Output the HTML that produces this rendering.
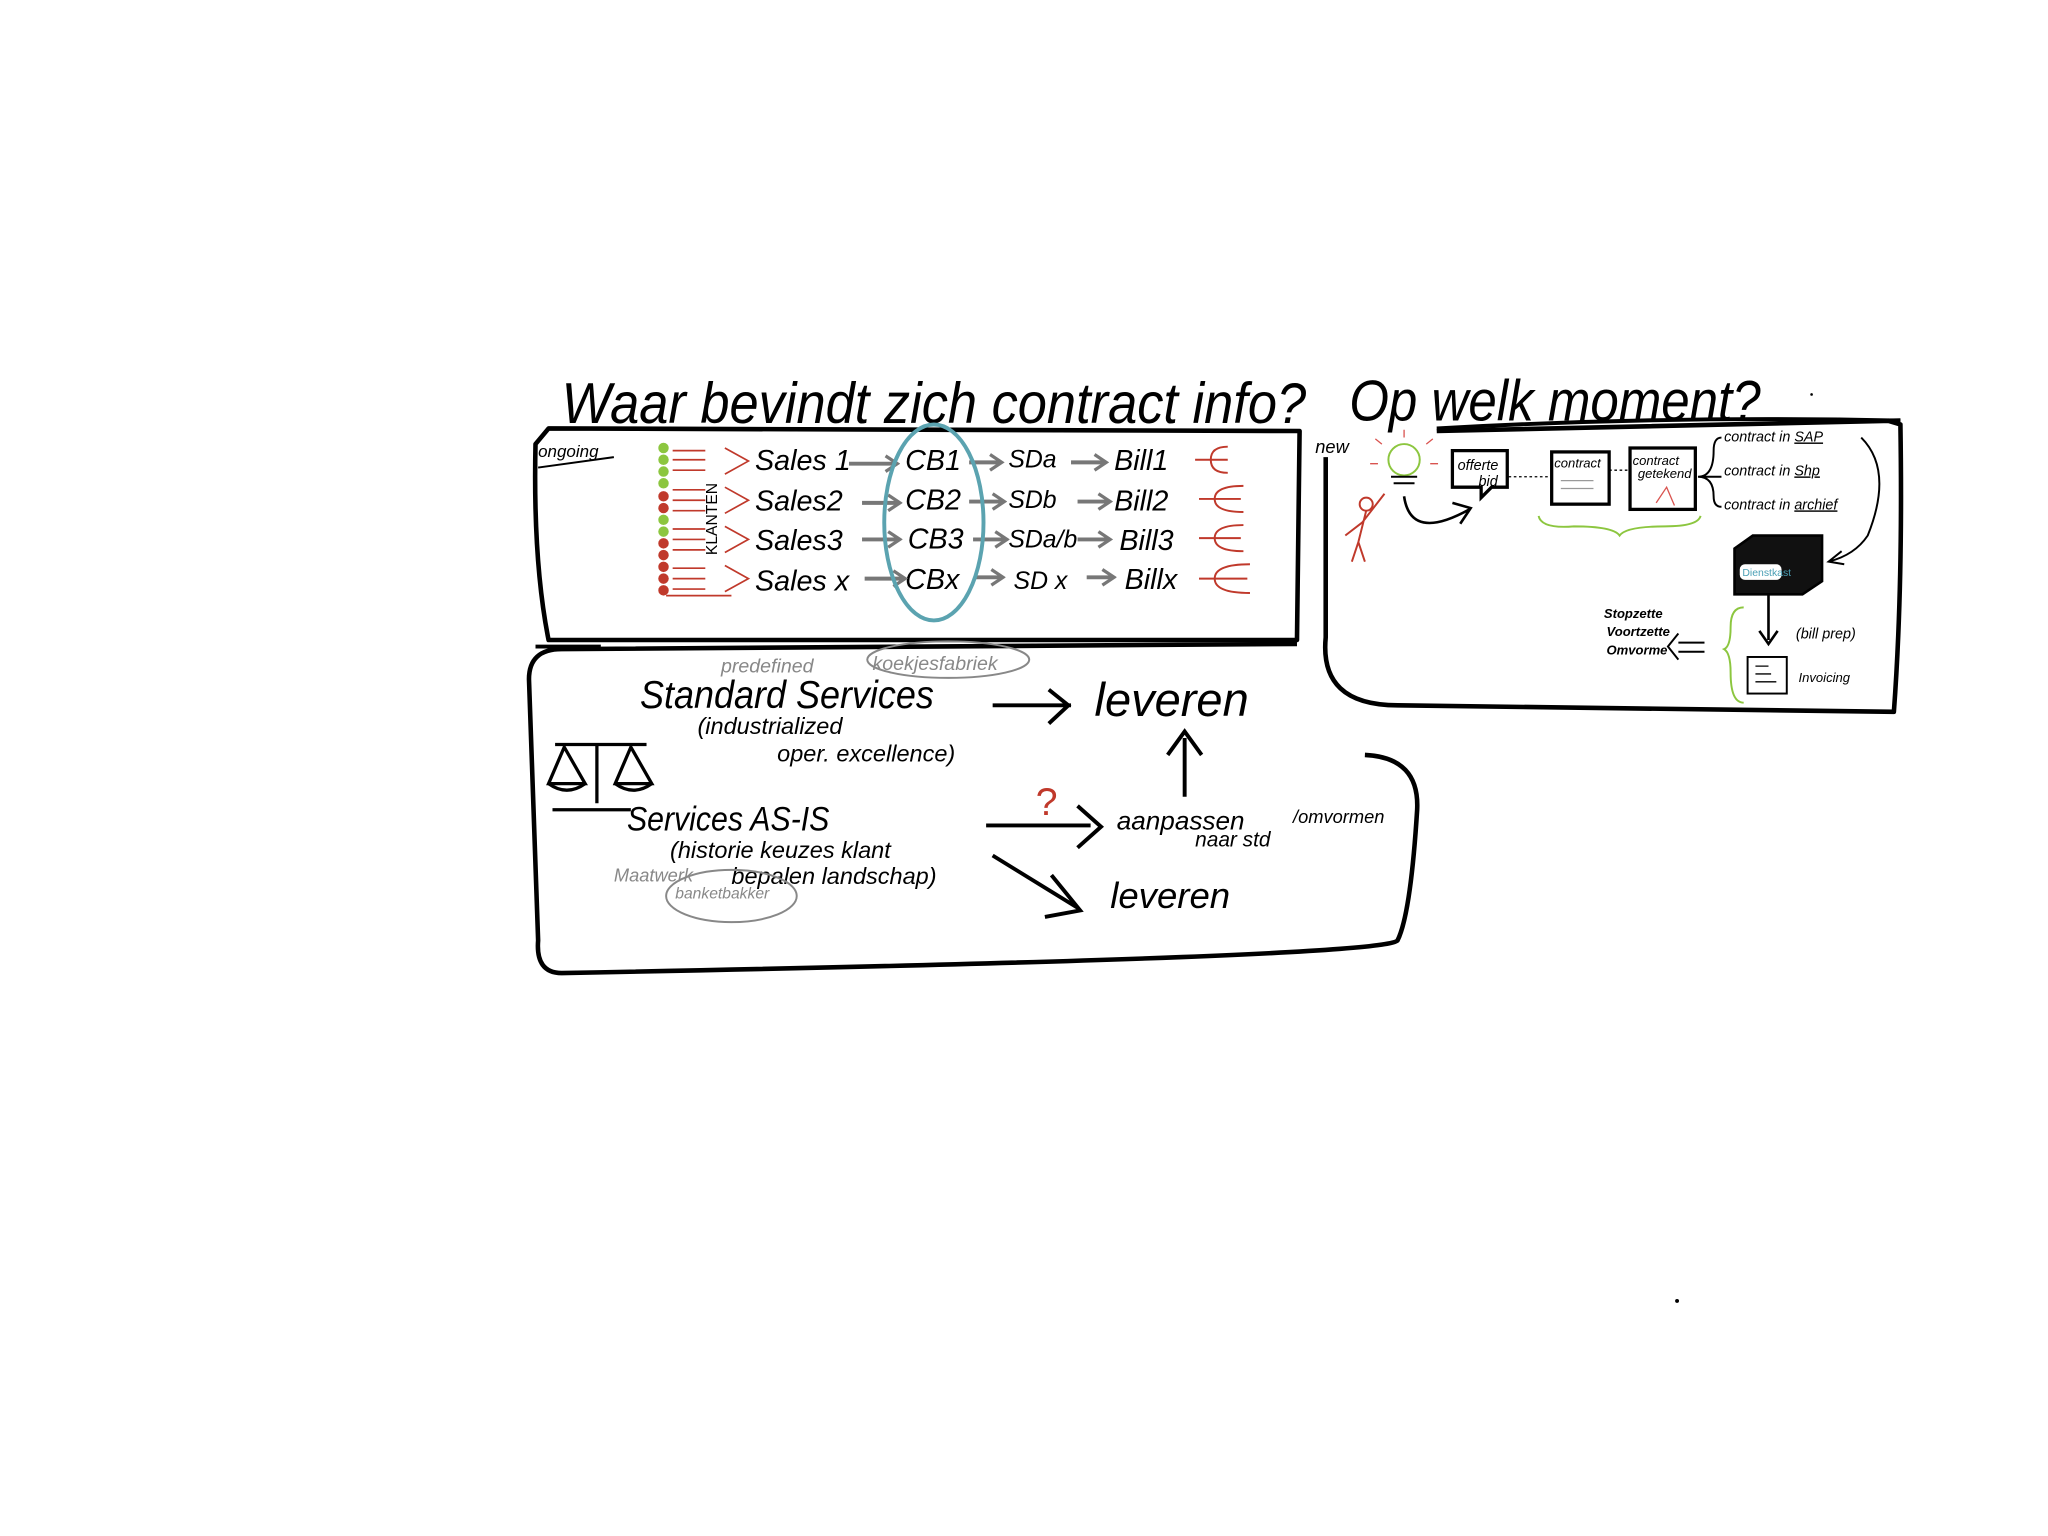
<!DOCTYPE html>
<html><head><meta charset="utf-8">
<style>
html,body{margin:0;padding:0;background:#fff;}
svg{display:block;}
text{font-family:"Liberation Sans",sans-serif;}
</style></head>
<body>
<svg width="2048" height="1536" viewBox="0 0 1568 1176" xmlns="http://www.w3.org/2000/svg">
<defs>
<marker id="ag" markerUnits="userSpaceOnUse" markerWidth="12" markerHeight="14" refX="9" refY="7" orient="auto"><path d="M1,1 L10,7 L1,13" fill="none" stroke="#777" stroke-width="2.5"/></marker>
</defs>
<rect width="1568" height="1176" fill="#fff"/>

<!-- Titles -->
<text x="430" y="324" font-size="44" font-style="italic" fill="#000" textLength="570" lengthAdjust="spacingAndGlyphs">Waar bevindt zich contract info?</text>
<text x="1033" y="322" font-size="44" font-style="italic" fill="#000" textLength="315" lengthAdjust="spacingAndGlyphs">Op welk moment?</text>
<path d="M1100,328 Q1280,318 1455,322" stroke="#000" stroke-width="3" fill="none"/>

<!-- Box 1 -->
<path d="M420,328 L995,330 L993,490 L420,490 Q408,430 410,340 Z" fill="none" stroke="#000" stroke-width="3.5" stroke-linejoin="round"/>
<text x="412" y="350" font-size="13" font-style="italic">ongoing</text>
<path d="M412,358 L470,350" stroke="#000" stroke-width="1.5"/>
<g>
<circle cx="508" cy="343" r="4" fill="#8cc63f"/><circle cx="508" cy="352" r="4" fill="#8cc63f"/><circle cx="508" cy="361" r="4" fill="#8cc63f"/><circle cx="508" cy="370" r="4" fill="#8cc63f"/>
<circle cx="508" cy="380" r="4" fill="#c0392b"/><circle cx="508" cy="389" r="4" fill="#c0392b"/><circle cx="508" cy="398" r="4" fill="#8cc63f"/><circle cx="508" cy="407" r="4" fill="#8cc63f"/>
<circle cx="508" cy="416" r="4" fill="#c0392b"/><circle cx="508" cy="425" r="4" fill="#c0392b"/><circle cx="508" cy="434" r="4" fill="#c0392b"/><circle cx="508" cy="443" r="4" fill="#c0392b"/><circle cx="508" cy="452" r="4" fill="#c0392b"/>
</g>
<g stroke="#c0392b" stroke-width="1.3" fill="none">
<path d="M515,345 h25 M515,352 h25 M515,360 h25 M555,343 l18,10 l-18,10"/>
<path d="M515,375 h25 M515,383 h25 M515,391 h25 M555,373 l18,10 l-18,10"/>
<path d="M515,405 h25 M515,413 h25 M515,421 h25 M555,403 l18,10 l-18,10"/>
<path d="M515,435 h25 M515,443 h25 M515,451 h25 M510,456 h50 M555,433 l18,10 l-18,10"/>
</g>
<text transform="translate(549,425) rotate(-90)" font-size="12">KLANTEN</text>
<g font-size="22" font-style="italic" fill="#000">
<text x="578" y="360">Sales 1</text><text x="693" y="360">CB1</text><text x="772" y="358" font-size="19">SDa</text><text x="853" y="360">Bill1</text>
<text x="578" y="391">Sales2</text><text x="693" y="390">CB2</text><text x="772" y="389" font-size="19">SDb</text><text x="853" y="391">Bill2</text>
<text x="578" y="421">Sales3</text><text x="695" y="420">CB3</text><text x="772" y="419" font-size="19">SDa/b</text><text x="857" y="421">Bill3</text>
<text x="578" y="452">Sales x</text><text x="693" y="451">CBx</text><text x="776" y="451" font-size="19">SD x</text><text x="861" y="451">Billx</text>
</g>
<g stroke="#777" stroke-width="3" fill="none" marker-end="url(#ag)">
<path d="M650,355 h36"/><path d="M742,354 h24"/><path d="M820,354 h26"/>
<path d="M660,385 h28"/><path d="M742,384 h26"/><path d="M825,384 h24"/>
<path d="M660,413 h28"/><path d="M745,413 h25"/><path d="M825,413 h24"/>
<path d="M662,443 h30"/><path d="M747,442 h20"/><path d="M832,442 h20"/>
</g>
<ellipse cx="715" cy="400" rx="38" ry="75" fill="none" stroke="#5ba3b0" stroke-width="3"/>
<g stroke="#c0392b" stroke-width="1.5" fill="none">
<path d="M915,352 h12 M940,342 q-13,0 -13,10 q0,10 13,10 M927,352 h13"/>
<path d="M918,382 h12 M952,372 q-22,0 -22,10 q0,10 22,10 M930,382 h20"/>
<path d="M918,412 h12 M952,402 q-22,0 -22,10 q0,10 22,10 M930,412 h20"/>
<path d="M918,443 h12 M957,432 q-27,0 -27,11 q0,11 27,11 M930,443 h25"/>
</g>

<!-- Box 2 -->
<path d="M410,495 L460,495" stroke="#000" stroke-width="3" fill="none"/>
<path d="M993,493 L430,497 Q405,497 405,520 L412,720 Q410,745 430,745 Q1060,733 1070,720 Q1080,700 1085,620 Q1087,580 1045,578" fill="none" stroke="#000" stroke-width="3.5" stroke-linejoin="round"/>
<text x="552" y="515" font-size="15" font-style="italic" fill="#888">predefined</text>
<text x="668" y="513" font-size="15" font-style="italic" fill="#888">koekjesfabriek</text>
<ellipse cx="726" cy="505" rx="62" ry="14" fill="none" stroke="#888" stroke-width="1.5"/>
<text x="490" y="542" font-size="30" font-style="italic" fill="#000" textLength="225" lengthAdjust="spacingAndGlyphs">Standard Services</text>
<text x="534" y="562" font-size="18" font-style="italic">(industrialized</text>
<text x="595" y="583" font-size="18" font-style="italic">oper. excellence)</text>
<path d="M760,540 h60 M803,528 l15,12 l-15,14" stroke="#000" stroke-width="3" fill="none"/>
<text x="838" y="548" font-size="36" font-style="italic">leveren</text>
<path d="M907,610 V565 M894,578 l13,-18 l13,18" stroke="#000" stroke-width="3" fill="none"/>
<g stroke="#000" stroke-width="2.5" fill="none">
<path d="M425,570 h70 M457,570 v45"/>
<path d="M432,572 l-12,28 h28 z M483,572 l-12,28 h28 z"/>
<path d="M420,600 q14,10 28,0 M471,600 q14,10 28,0"/>
<path d="M423,620 h60"/>
</g>
<text x="480" y="636" font-size="26" font-style="italic" textLength="155" lengthAdjust="spacingAndGlyphs">Services AS-IS</text>
<text x="513" y="657" font-size="18" font-style="italic">(historie keuzes klant</text>
<text x="560" y="677" font-size="18" font-style="italic">bepalen landschap)</text>
<text x="470" y="675" font-size="14" font-style="italic" fill="#888">Maatwerk</text>
<text x="517" y="688" font-size="12" font-style="italic" fill="#888">banketbakker</text>
<ellipse cx="560" cy="686" rx="50" ry="20" fill="none" stroke="#888" stroke-width="1.5"/>
<text x="793" y="624" font-size="30" fill="#c0392b">?</text>
<path d="M755,632 h80 M825,617 l18,16 l-18,16" stroke="#000" stroke-width="3" fill="none"/>
<text x="855" y="635" font-size="20" font-style="italic">aanpassen</text>
<text x="990" y="630" font-size="14" font-style="italic">/omvormen</text>
<text x="915" y="648" font-size="16" font-style="italic">naar std</text>
<path d="M760,655 L825,695 M805,670 l22,27 l-27,5" stroke="#000" stroke-width="3" fill="none"/>
<text x="850" y="695" font-size="28" font-style="italic">leveren</text>

<!-- Box 3 -->
<path d="M1015,350 L1015,488 Q1010,540 1070,540 L1450,545 Q1457,450 1455,325 L1445,322 M1455,322 L1100,330" fill="none" stroke="#000" stroke-width="3.5" stroke-linejoin="round"/>
<text x="1007" y="347" font-size="14" font-style="italic">new</text>
<circle cx="1075" cy="352" r="12" fill="none" stroke="#8cc63f" stroke-width="1.5"/>
<path d="M1065,365 h20 M1067,370 h16" stroke="#000" stroke-width="1.5"/>
<g stroke="#d9534f" stroke-width="1"><path d="M1058,340 l-5,-4 M1092,340 l5,-4 M1075,335 v-6 M1055,355 h-6 M1095,355 h6"/></g>
<g stroke="#c0392b" stroke-width="1.5" fill="none">
<circle cx="1046" cy="386" r="5"/><path d="M1046,391 L1040,415 L1035,430 M1040,415 L1045,430 M1043,400 L1060,378 M1043,400 L1030,410"/>
</g>
<path d="M1075,380 Q1080,415 1125,390 M1112,385 l14,4 l-8,12" stroke="#000" stroke-width="2" fill="none"/>
<path d="M1112,345 h42 v28 h-12 l-8,8 v-8 h-22 z" fill="#fff" stroke="#000" stroke-width="2.5"/>
<text x="1116" y="360" font-size="11" font-style="italic">offerte</text><text x="1132" y="372" font-size="11" font-style="italic">bid</text>
<path d="M1155,365 h30" stroke="#000" stroke-width="1" stroke-dasharray="2,2"/>
<rect x="1188" y="346" width="44" height="40" fill="#fff" stroke="#000" stroke-width="2.5"/>
<text x="1190" y="358" font-size="10" font-style="italic">contract</text>
<path d="M1195,368 h25 M1195,374 h25" stroke="#999" stroke-width="1"/>
<path d="M1232,360 h14" stroke="#000" stroke-width="1" stroke-dasharray="2,2"/>
<rect x="1248" y="343" width="50" height="47" fill="#fff" stroke="#000" stroke-width="2.5"/>
<text x="1250" y="356" font-size="10" font-style="italic">contract</text><text x="1254" y="366" font-size="10" font-style="italic">getekend</text>
<path d="M1268,385 l8,-12 l6,14" stroke="#d9534f" stroke-width="1" fill="none"/>
<path d="M1178,395 Q1180,405 1205,403 Q1235,403 1240,410 Q1245,403 1275,403 Q1300,403 1302,395" stroke="#8cc63f" stroke-width="1.5" fill="none"/>
<path d="M1300,365 Q1312,365 1312,345 Q1312,335 1318,335 M1300,365 h18 M1300,365 Q1312,365 1312,380 Q1312,388 1318,388" stroke="#000" stroke-width="1.5" fill="none"/>
<text x="1320" y="338" font-size="11" font-style="italic">contract in <tspan text-decoration="underline">SAP</tspan></text>
<text x="1320" y="364" font-size="11" font-style="italic">contract in <tspan text-decoration="underline">Shp</tspan></text>
<text x="1320" y="390" font-size="11" font-style="italic">contract in <tspan text-decoration="underline">archief</tspan></text>
<path d="M1425,335 Q1450,360 1430,410 Q1420,425 1400,430 M1410,422 l-10,8 l12,2" stroke="#000" stroke-width="1.5" fill="none"/>
<path d="M1328,420 L1342,410 L1395,410 L1395,445 L1380,455 L1328,455 Z" fill="#111" stroke="#000" stroke-width="2"/>
<rect x="1332" y="432" width="32" height="12" rx="4" fill="#fff"/>
<text x="1334" y="441" font-size="8" fill="#4a9fb5">Dienstkast</text>
<path d="M1354,455 V490 M1347,483 l7,10 l7,-10" stroke="#000" stroke-width="2" fill="none"/>
<text x="1375" y="489" font-size="11" font-style="italic">(bill prep)</text>
<rect x="1338" y="503" width="30" height="28" fill="#fff" stroke="#000" stroke-width="1.5"/>
<path d="M1344,510 h10 M1344,516 h12 M1344,522 h16" stroke="#000" stroke-width="1"/>
<text x="1377" y="522" font-size="10" font-style="italic">Invoicing</text>
<path d="M1335,465 Q1325,465 1325,480 Q1325,495 1320,497 Q1325,500 1325,515 Q1325,538 1335,538" stroke="#8cc63f" stroke-width="1.5" fill="none"/>
<text x="1228" y="473" font-size="10" font-style="italic" font-weight="bold">Stopzette</text>
<text x="1230" y="487" font-size="10" font-style="italic" font-weight="bold">Voortzette</text>
<text x="1230" y="501" font-size="10" font-style="italic" font-weight="bold">Omvorme</text>
<path d="M1285,485 l-8,10 l8,10 M1285,492 h20 M1285,499 h20" stroke="#000" stroke-width="1.5" fill="none"/>
<circle cx="1284" cy="996" r="1.5" fill="#000"/>
<circle cx="1387" cy="302" r="1" fill="#000"/>
</svg>
</body></html>
